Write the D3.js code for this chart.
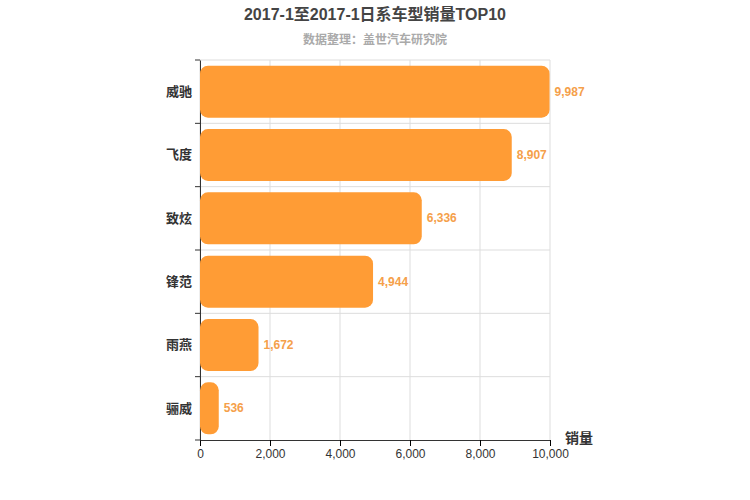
<!DOCTYPE html>
<html><head><meta charset="utf-8">
<script src="https://cdn.jsdelivr.net/npm/d3@7/dist/d3.min.js"></script>
<style>body{margin:0;background:#fff}text{font-family:"Liberation Sans","Noto Sans CJK SC",sans-serif}</style>
</head><body><svg id="c" width="750" height="500"></svg>
<script>
const categories=["威驰","飞度","致炫","锋范","雨燕","骊威"];
const values=[9987,8907,6336,4944,1672,536];
const ticks=[0,2000,4000,6000,8000,10000];
const svg=d3.select("#c");
const L=200,R=550,T=60,B=440;
const x=d3.scaleLinear().domain([0,10000]).range([L,R]);
const y=d3.scaleBand().domain(categories).range([T,B]).paddingInner(0.18).paddingOuter(0.09);
const yb=d3.scaleBand().domain(categories).range([T,B]);
const g=svg.append("g");
ticks.forEach(t=>g.append("line").attr("x1",x(t)).attr("x2",x(t)).attr("y1",T).attr("y2",B).attr("stroke","#ddd"));
categories.forEach(c=>g.append("line").attr("x1",L).attr("x2",R).attr("y1",yb(c)).attr("y2",yb(c)).attr("stroke","#ddd"));
const xa=svg.append("g").attr("transform",`translate(0,${B})`).call(d3.axisBottom(x).tickValues(ticks).tickFormat(d3.format(",")).tickSizeOuter(0));
xa.selectAll("text").attr("font-size",12).attr("fill","#333");
xa.select(".domain").attr("stroke","#333");
const ya=svg.append("g").attr("transform",`translate(${L},0)`).call(d3.axisLeft(yb).tickSizeOuter(0).tickSize(0).tickPadding(8));
ya.selectAll("text").attr("font-size",13).attr("font-weight","bold").attr("fill","#333");
ya.select(".domain").attr("stroke","#333");
categories.concat([null]).forEach((c,i)=>{const yy=c?yb(c):B;svg.append("line").attr("x1",L-5).attr("x2",L).attr("y1",yy).attr("y2",yy).attr("stroke","#333");});
svg.selectAll(".bar").data(values).enter().append("rect")
 .attr("x",L).attr("y",(d,i)=>y(categories[i])).attr("width",d=>x(d)-L).attr("height",y.bandwidth())
 .attr("rx",8).attr("fill","#ff9c35");
svg.selectAll(".lbl").data(values).enter().append("text")
 .attr("x",d=>x(d)+5).attr("y",(d,i)=>y(categories[i])+y.bandwidth()/2+4)
 .attr("font-size",12).attr("font-weight","bold").attr("fill","#f5a04a").text(d=>d3.format(",")(d));
svg.append("text").attr("x",375).attr("y",20).attr("text-anchor","middle").attr("font-size",16).attr("font-weight","bold").attr("fill","#444").text("2017-1至2017-1日系车型销量TOP10");
svg.append("text").attr("x",375).attr("y",44).attr("text-anchor","middle").attr("font-size",12).attr("font-weight","bold").attr("fill","#aaa").text("数据整理：盖世汽车研究院");
svg.append("text").attr("x",565).attr("y",443).attr("font-size",14).attr("font-weight","bold").attr("fill","#333").text("销量");
</script></body></html>
